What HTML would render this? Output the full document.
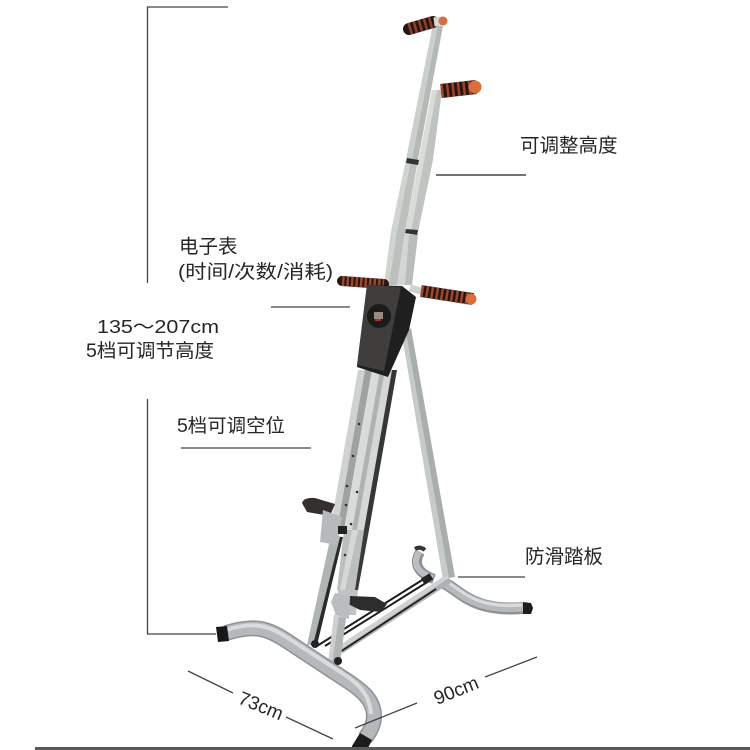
<!DOCTYPE html>
<html><head><meta charset="utf-8">
<style>
html,body{margin:0;padding:0;background:#fff;width:750px;height:750px;overflow:hidden}
svg{display:block}
text{font-family:"Liberation Sans","WenQuanYi Zen Hei","Noto Sans CJK SC",sans-serif;fill:#262626}
</style></head><body>
<svg width="750" height="750" viewBox="0 0 750 750" xmlns="http://www.w3.org/2000/svg">

<!-- rear leg -->
<polygon points="402,335 411,328 455,577 443,579" fill="#a9adad"/>
<polygon points="402,335 406,332 449,578 443,579" fill="#c6caca"/>

<!-- small rear curve -->
<path d="M420,552 C413,564 418,573 434,579" fill="none" stroke="#8f9294" stroke-width="10"/>
<path d="M419,552 C412,564 417,572 433,578" fill="none" stroke="#bcbfc1" stroke-width="6"/>
<path d="M415,549 Q420,546 425,550" fill="none" stroke="#333" stroke-width="4"/>

<!-- rear base -->
<path d="M441,581 C462,592 472,612 523,608" fill="none" stroke="#8e9193" stroke-width="12"/>
<path d="M441,581 C462,592 472,611 523,607" fill="none" stroke="#b6b9bb" stroke-width="9"/>
<path d="M446,581 C464,592 476,609 522,605" fill="none" stroke="#d9dbdc" stroke-width="3"/>
<polygon points="523,602 531,603 533,608 531,614 523,614" fill="#1d1d1d"/>

<!-- crossbar -->
<polygon points="446,575 452,582 343,653 337,647" fill="#aeb1b2"/>
<polygon points="446,575 449,578 340,650 337,647" fill="#cfd1d2"/>
<line x1="436" y1="589" x2="340" y2="652" stroke="#1c1c1c" stroke-width="1.8"/>
<!-- cables -->
<line x1="427" y1="577" x2="317" y2="646" stroke="#1c1c1c" stroke-width="2"/>
<line x1="429" y1="581" x2="325" y2="646" stroke="#1c1c1c" stroke-width="2"/>
<rect x="422" y="576" width="10" height="7" fill="#222" transform="rotate(-32 426 579)"/>

<!-- upper poles -->
<polygon points="433,25 443,26 418,160 406,160" fill="#b4b9b6"/>
<polygon points="433,25 438,25 412,160 406,160" fill="#ccd0cd"/>
<polygon points="432,90 442,90 433,160 418,232 405,232 420,160" fill="#c0c4c1"/>
<polygon points="432,90 437,90 411,232 405,232" fill="#d8dbd8"/>
<polygon points="406,160 418,160 405,232 397,285 384,285 391,232" fill="#bcc0bd"/>
<polygon points="406,160 411,160 397,232 389,285 384,285 391,232" fill="#d0d4d1"/>
<polygon points="405,232 418,232 412,285 397,285" fill="#d2d5d3"/>
<polygon points="409,235 418,235 412,285 405,285" fill="#b8bcba"/>
<polygon points="407,158 419,160 418,165 406,163" fill="#333"/>
<polygon points="406,229 418,230 417,235 405,233" fill="#333"/>

<!-- top grips -->
<line x1="409" y1="29" x2="433" y2="22" stroke="#241611" stroke-width="12" stroke-linecap="round"/>
<line x1="409" y1="29" x2="433" y2="22" stroke="#8f4229" stroke-width="12" stroke-dasharray="2.5 2.8"/>
<line x1="434" y1="22" x2="442" y2="21" stroke="#d8d8d4" stroke-width="9"/>
<circle cx="443" cy="21" r="4.5" fill="#d96e3a"/>
<line x1="441" y1="91" x2="476" y2="87" stroke="#241611" stroke-width="14"/>
<line x1="441" y1="91" x2="476" y2="87" stroke="#9c4329" stroke-width="14" stroke-dasharray="2.5 3"/>
<circle cx="475" cy="87" r="6.5" fill="#d96e3a"/>

<!-- main rails strips: top y=370, bottom y=530, shift 28 -->
<polygon points="358,370 365,370 337,530 330,530" fill="#cfd2d1"/>
<polygon points="365,370 372,370 344,530 337,530" fill="#9ea2a2"/>
<polygon points="372,370 380,370 352,530 344,530" fill="#d8dbda"/>
<polygon points="380,370 385,370 357,530 352,530" fill="#aeb2b1"/>
<polygon points="385,370 392,370 364,530 357,530" fill="#d4d7d6"/>
<polygon points="392,370 397,370 369,530 364,530" fill="#34363a"/>
<!-- central below -->
<polygon points="344,530 364,530 355,590 337,590" fill="#bcbfbf"/>
<polygon points="352,530 358,530 345,590 340,590" fill="#d6d8d7"/>
<polygon points="364,530 369,530 358,590 355,590" fill="#3a3a3a"/>
<polygon points="338,590 358,590 356,615 335,615" fill="#c0c3c3"/>
<!-- rail holes -->
<g fill="#333"><circle cx="359" cy="424" r="1.3"/><circle cx="353" cy="456" r="1.3"/><circle cx="347" cy="486" r="1.3"/><circle cx="357" cy="492" r="1.3"/><circle cx="346" cy="505" r="1.3"/><circle cx="351" cy="524" r="1.3"/><circle cx="345" cy="555" r="1.3"/></g>

<!-- lower-left slider -->
<polygon points="331,535 343,537 317,645 307,645" fill="#b0b4b4"/>
<polygon points="340,537 343,537 317,645 313,645" fill="#2a2a2a"/>
<!-- upper pedal -->
<path d="M302,503 Q304,497 315,498 L335,504 L330,516 L307,512 Z" fill="#33302f"/>
<polygon points="323,510 342,517 337,545 320,542" fill="#b6babc"/>
<rect x="338" y="526" width="9" height="8" fill="#222"/>
<!-- lower arm -->
<polygon points="334,615 346,618 340,664 328,664" fill="#b0b4b4"/>
<polygon points="334,615 339,616 332,664 328,664" fill="#cdd0d0"/>
<!-- lower pedal -->
<path d="M350,596 L375,597 L387,604 L381,612 L360,610 L348,604 Z" fill="#2f2d2c"/>
<polygon points="335,593 350,597 349,619 336,615 331,602" fill="#b9bdbf"/>

<!-- front base -->
<path d="M226,633 C255,624 268,628 290,643 L343,678 C362,690 374,700 374,716 C374,724 370,732 365,738" fill="none" stroke="#8e9193" stroke-width="16"/>
<path d="M226,633 C255,624 268,628 290,643 L343,678 C362,690 374,700 374,716 C374,724 370,732 365,738" fill="none" stroke="#b6b9bb" stroke-width="13"/>
<path d="M226,630 C255,621 268,625 291,640 L345,675 C362,686 370,698 371,714" fill="none" stroke="#d9dbdc" stroke-width="4"/>
<polygon points="216,627 227,626 229,641 218,642" fill="#171717"/>
<polygon points="360,733 372,740 367,750 352,750 352,746" fill="#1b1b1b"/>
<circle cx="315" cy="644" r="4" fill="#222"/>
<circle cx="338" cy="661" r="4" fill="#222"/>

<!-- mid grips -->
<line x1="342" y1="281" x2="384" y2="284" stroke="#241611" stroke-width="10" stroke-linecap="round"/>
<line x1="342" y1="281" x2="384" y2="284" stroke="#9d472c" stroke-width="10" stroke-dasharray="2.5 2"/>
<line x1="410" y1="288" x2="421" y2="291" stroke="#cfd0cf" stroke-width="7"/>
<line x1="421" y1="291" x2="473" y2="299" stroke="#241611" stroke-width="12"/>
<line x1="421" y1="291" x2="471" y2="299" stroke="#9d472c" stroke-width="12" stroke-dasharray="2.5 2.5"/>
<circle cx="471" cy="299" r="5.5" fill="#d96e3a"/>

<!-- console -->
<polygon points="367,285 402,286 416,297 409,330 388,377 357,367" fill="#1f1f1f"/>
<polygon points="367,285 401,287 384,371 357,365" fill="#403e3d"/>
<circle cx="379" cy="316" r="12" fill="#1c1b1b"/>
<rect x="374" y="312" width="9" height="7" fill="#9a8a7e"/>
<rect x="375" y="319" width="6" height="2" fill="#a33"/>

<!-- annotation lines -->
<g fill="none" stroke="#444" stroke-width="1.3">
<path d="M228,7 H147.5 V283"/>
<path d="M147.5,399 V634 H216"/>
<path d="M436,175 H526" stroke="#222"/>
<path d="M271,307 H350"/>
<path d="M181,448 H311"/>
<path d="M458,577 H525"/>
<path d="M188,671 L233,693"/>
<path d="M286,717 L333,739"/>
<path d="M355,728 L417,703"/>
<path d="M485,677 L537,657"/>
</g>
<rect x="35" y="747" width="715" height="3" fill="#595959"/>

<!-- labels -->
<text x="520" y="152" font-size="19.5">可调整高度</text>
<text x="179" y="253" font-size="19.5">电子表</text>
<text x="178" y="278" font-size="19" textLength="155" lengthAdjust="spacingAndGlyphs">(时间/次数/消耗)</text>
<text x="97" y="333" font-size="18" textLength="122" lengthAdjust="spacingAndGlyphs">135～207cm</text>
<text x="86" y="357" font-size="19" textLength="128" lengthAdjust="spacingAndGlyphs">5档可调节高度</text>
<text x="177" y="432" font-size="19" textLength="108" lengthAdjust="spacingAndGlyphs">5档可调空位</text>
<text x="525" y="563" font-size="19.5">防滑踏板</text>
<text x="237" y="703" font-size="19" transform="rotate(22 237 703)">73cm</text>
<text x="437" y="705" font-size="19" transform="rotate(-22 437 705)">90cm</text>
</svg>
</body></html>
